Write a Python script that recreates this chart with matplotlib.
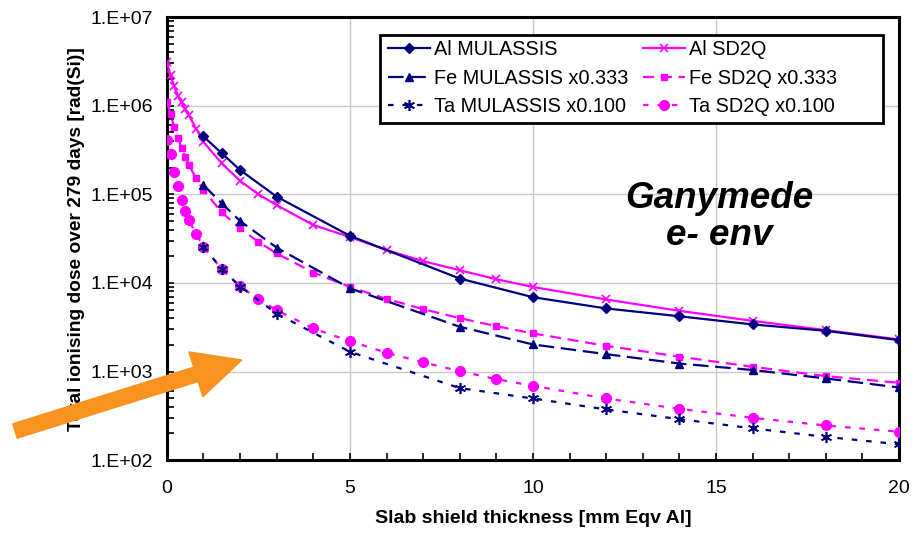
import numpy as np
import matplotlib.pyplot as plt
from matplotlib.patches import FancyArrow, Rectangle
from matplotlib.transforms import IdentityTransform
from matplotlib.ticker import FuncFormatter, MultipleLocator, LogLocator, NullFormatter

plt.rcParams['font.family'] = ['Liberation Sans', 'DejaVu Sans']

# thickness grids [mm Eqv Al]
x_mul = [1, 1.5, 2, 3, 5, 8, 10, 12, 14, 16, 18, 20]
x_sd2q = [0, 0.1, 0.2, 0.3, 0.4, 0.5, 0.6, 0.8, 1, 1.5, 2, 2.5, 3, 4, 5, 6, 7, 8, 9, 10,
          12, 14, 16, 18, 20]

# dose [rad(Si)]
al_mul = [4.5e5, 2.9e5, 1.88e5, 9.4e4, 3.4e4, 1.12e4, 6.9e3, 5.15e3, 4.2e3, 3.4e3, 2.88e3, 2.26e3]
fe_mul = [1.27e5, 7.9e4, 5.0e4, 2.5e4, 8.7e3, 3.2e3, 2.02e3, 1.57e3, 1.23e3, 1.04e3, 8.35e2, 6.6e2]
ta_mul = [2.56e4, 1.43e4, 9.1e3, 4.5e3, 1.67e3, 6.5e2, 4.96e2, 3.73e2, 2.9e2, 2.28e2, 1.83e2, 1.51e2]

al_sd2q = [3.1e6, 2.2e6, 1.65e6, 1.3e6, 1.1e6, 9.3e5, 7.8e5, 5.5e5, 3.9e5, 2.23e5, 1.42e5, 1.0e5,
           7.55e4, 4.5e4, 3.3e4, 2.35e4, 1.76e4, 1.39e4, 1.1e4, 9.0e3, 6.5e3, 4.84e3, 3.73e3,
           2.93e3, 2.3e3]
fe_sd2q = [1.09e6, 8.0e5, 5.7e5, 4.35e5, 3.35e5, 2.65e5, 2.15e5, 1.51e5, 1.11e5, 6.25e4, 4.12e4,
           2.9e4, 2.15e4, 1.31e4, 9.0e3, 6.6e3, 5.06e3, 4.0e3, 3.25e3, 2.69e3, 1.95e3, 1.47e3,
           1.13e3, 8.87e2, 7.46e2]
ta_sd2q = [4.1e5, 2.84e5, 1.8e5, 1.24e5, 8.6e4, 6.5e4, 5.1e4, 3.56e4, 2.56e4, 1.43e4, 9.2e3,
           6.5e3, 4.93e3, 3.06e3, 2.2e3, 1.63e3, 1.27e3, 1.01e3, 8.2e2, 6.9e2, 4.96e2, 3.79e2,
           3.0e2, 2.46e2, 2.09e2]

navy = '#000080'
mag = '#ff00ff'

fig = plt.figure(figsize=(9.22, 5.35), dpi=100)
ax = fig.add_axes([0.181, 0.140, 0.794, 0.828])

ax.plot(x_mul, al_mul, color=navy, lw=1.6, marker='D', ms=5, label='Al MULASSIS', zorder=4)
ax.plot(x_mul, fe_mul, color=navy, lw=1.6, ls=(0, (7, 3)), marker='^', ms=6,
        label='Fe MULASSIS x0.333', zorder=4)
ax.plot(x_mul, ta_mul, color=navy, lw=1.6, ls=(0, (2.5, 4)), marker=(6, 2, 0), ms=8, mew=1.2,
        label='Ta MULASSIS x0.100', zorder=4)
ax.plot(x_sd2q, al_sd2q, color=mag, lw=1.6, marker='x', ms=6, mew=1.2, label='Al SD2Q', zorder=3)
ax.plot(x_sd2q, fe_sd2q, color=mag, lw=1.6, ls=(0, (5, 3)), marker='s', ms=5,
        label='Fe SD2Q x0.333', zorder=3)
ax.plot(x_sd2q, ta_sd2q, color=mag, lw=1.6, ls=(0, (2.5, 4)), marker='o', ms=7,
        label='Ta SD2Q x0.100', zorder=3)

ax.set_yscale('log')
ax.set_xlim(0, 20)
ax.set_ylim(1e2, 1e7)
ax.xaxis.set_major_locator(MultipleLocator(5))
ax.xaxis.set_minor_locator(MultipleLocator(1))
ax.yaxis.set_major_locator(LogLocator(base=10, numticks=10))
ax.yaxis.set_minor_locator(LogLocator(base=10, subs=np.arange(2, 10), numticks=10))
ax.yaxis.set_minor_formatter(NullFormatter())
ax.yaxis.set_major_formatter(FuncFormatter(lambda v, p: '1.E+%02d' % int(round(np.log10(v)))))

ax.grid(True, which='major', color='#c8c8c8', lw=1)
ax.tick_params(which='both', direction='in', labelsize=14, colors='black', top=False, right=False)
ax.tick_params(which='major', length=5, width=1.2)
ax.tick_params(which='minor', length=5, width=1.2)
ax.tick_params(axis='y', pad=10)
ax.tick_params(axis='x', pad=14)
for s in ax.spines.values():
    s.set_linewidth(2.2)

ax.set_xlabel('Slab shield thickness [mm Eqv Al]', fontsize=14, fontweight='bold', labelpad=10)
ax.set_ylabel('Total ionising dose over 279 days [rad(Si)]', fontsize=13.8, fontweight='bold',
              labelpad=4)

# legend box drawn separately (Excel-style, wide right margin)
ax.add_patch(Rectangle((0.291, 0.761), 0.687, 0.199, transform=ax.transAxes, fill=True,
                       facecolor='white', edgecolor='black', lw=2.0, zorder=5, clip_on=False))
leg = ax.legend(ncol=2, loc='upper left', bbox_to_anchor=(0.302, 0.948), fontsize=14.3,
                handlelength=2.1, columnspacing=0.75, labelspacing=0.48, borderpad=0,
                borderaxespad=0, handletextpad=0.2, frameon=False)
leg.set_zorder(6)

ax.text(0.755, 0.549, 'Ganymede\ne- env', transform=ax.transAxes, fontsize=26.5,
        fontweight='bold', style='italic', ha='center', va='center', linespacing=1.1)

# orange arrow (figure pixels)
arrow = FancyArrow(15, 104, 226.7, 71, width=15, head_width=47, head_length=48,
                   length_includes_head=True, color='#f7931e', transform=IdentityTransform())
fig.add_artist(arrow)

fig.savefig('out.png', dpi=100)
